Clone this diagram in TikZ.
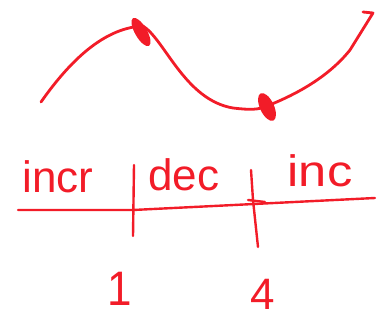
\documentclass[tikz,border=0pt]{standalone}
\usepackage{fontspec}
\setmainfont{Liberation Sans}
\definecolor{pen}{RGB}{242,28,40}
\begin{document}
\begin{tikzpicture}[x=1pt,y=-1pt,
  ink/.style={draw=pen,line width=2.8pt,line cap=round,line join=round},
  lbl/.style={text=pen,font=\fontsize{44}{44}\selectfont,inner sep=0pt}]
\useasboundingbox (0,0) rectangle (388,320);
% curve
\draw[ink] (41,102) .. controls (65,68) and (100,28) .. (143,26)
  .. controls (165,40) and (185,100) .. (233,108)
  .. controls (250,110) and (258,110) .. (267,106)
  .. controls (300,93) and (330,75) .. (350,50)
  -- (373,13) -- (363,12);
\fill[pen,rotate around={-60:(141,32)}] (141,32) ellipse (16pt and 6pt);
\fill[pen,rotate around={-65:(267,107)}] (267,107) ellipse (15pt and 7pt);
% number line
\coordinate (L) at (18,210);
\coordinate (R) at (375,198);
\draw[ink,line width=2.4pt] (L) -- (133,210) -- (R);
\coordinate (t1a) at (134,165);
\coordinate (t1b) at (133,236);
\coordinate (t4a) at (251,170);
\coordinate (t4b) at (258,247);
\draw[ink,line width=2.4pt] (t1a) -- (t1b);
\draw[ink,line width=2.4pt] (t4a) -- (253,200) -- (t4b);
\draw[ink,line width=2.4pt] (248,200) -- (265,202);
% labels
\node[lbl] (incr) at (58,177) {incr};
\node[lbl] (dec) at (184,175) {dec};
\node[lbl,xscale=1.15] (inc) at (320,171) {inc};
\node[lbl,yscale=1.1] (one) at (120,289) {1};
\node[lbl] (four) at (263,294) {4};
\end{tikzpicture}
\end{document}
